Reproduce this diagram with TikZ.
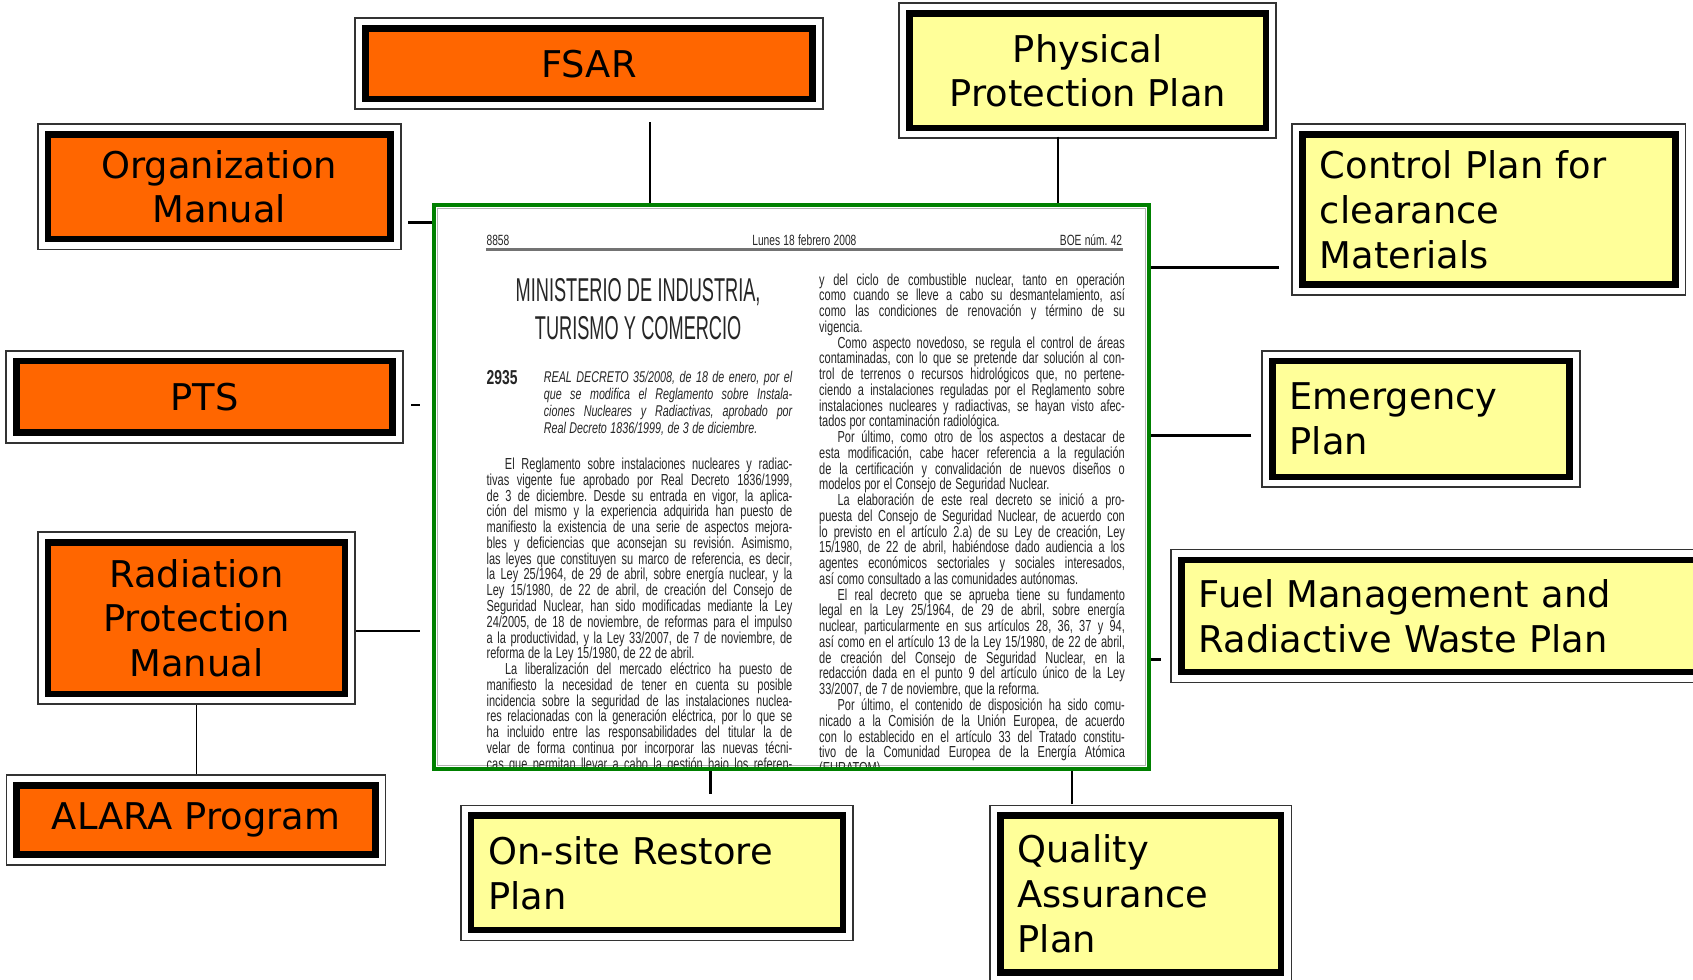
\documentclass[tikz,border=0pt]{standalone}
\usepackage{fontspec}
\usepackage{tikz}
\usetikzlibrary{calc}

\newfontfamily\planfont{DejaVu Sans}
\newfontfamily\boefont[FakeStretch=0.69]{Liberation Sans}
\newfontfamily\boetitlefont[FakeStretch=0.55]{Liberation Sans}

\definecolor{planorange}{RGB}{255,102,0}
\definecolor{planyellow}{RGB}{255,255,153}
\definecolor{boegreen}{RGB}{0,128,0}

\newlength{\boecol}\setlength{\boecol}{2.83cm}
\newlength{\boedec}\setlength{\boedec}{2.30cm}
\newcommand{\boespace}{\frenchspacing\spaceskip=0.22em plus 3em minus 0.1em\relax}
\newcommand{\titlespace}{\frenchspacing\spaceskip=0.16em\relax}
\newcommand{\jl}[2][\boecol]{\makebox[#1][s]{\boespace #2}}
\newcommand{\ind}{\hspace*{0.17cm}}

\begin{document}
\begin{tikzpicture}[x=0.01cm,y=-0.01cm,
    plan/.style={draw=black, line width=0.06cm, inner xsep=0.16cm, inner ysep=0.1cm,
                 font=\planfont\fontsize{9.7}{11.8}\selectfont},
    orange plan/.style={plan, fill=planorange, align=center},
    yellow plan/.style={plan, fill=planyellow, align=left},
    planframe/.style={draw=black!80, line width=0.016cm},
    link/.style={line width=0.025cm},
    boetext/.style={inner sep=0pt, align=left, text width=\boecol, text=black!85,
                    font=\boefont\fontsize{4.2}{4.15}\selectfont}]

  \useasboundingbox (0,0) rectangle (1568,907.5);

  % the BOE page
  \node[draw=boegreen, line width=0.037cm, fill=white, inner sep=0pt,
        minimum width=6.62cm, minimum height=5.22cm] (boe) at (733,451) {};
  \draw[black!30, line width=0.01cm] (405,193) rectangle (1061,709);

  \begin{scope}
    \clip (404,192) rectangle (1062,710);
    \node[boetext, text width=, anchor=base west, font=\boefont\fontsize{3.9}{4}\selectfont] (page) at (450,227) {8858};
    \node[boetext, text width=, anchor=base, font=\boefont\fontsize{3.9}{4}\selectfont] (date) at (745,227) {\boespace Lunes 18 febrero 2008};
    \node[boetext, text width=, anchor=base east, font=\boefont\fontsize{3.9}{4}\selectfont] (issue) at (1040,227) {\boespace BOE núm. 42};
    \draw[black!55, line width=0.022cm] (450,231) -- (1040,231);

    \node[inner sep=0pt, text width=2.6cm, align=center, anchor=base, text=black!85,
          font=\boetitlefont\fontsize{8.7}{9.96}\selectfont] (ministry) at (591,279)
      {\titlespace MINISTERIO DE INDUSTRIA,\\TURISMO Y COMERCIO};

    \node[boetext, text width=, anchor=base west, font=\boefont\bfseries\fontsize{5.3}{5.5}\selectfont] (number) at (450,356) {2935};
    \node[boetext, text width=\boedec, anchor=base west, font=\boefont\itshape\fontsize{4.1}{4.47}\selectfont] (decree) at (503,354)
      {\boespace
       \jl[\boedec]{REAL DECRETO 35/2008, de 18 de enero, por el}\\
       \jl[\boedec]{que se modifica el Reglamento sobre Instala-}\\
       \jl[\boedec]{ciones Nucleares y Radiactivas, aprobado por}\\
       Real Decreto 1836/1999, de 3 de diciembre.};

    \node[boetext, anchor=base west] (leftcol) at (450,435)
      {\boespace
       \jl{\ind El Reglamento sobre instalaciones nucleares y radiac-}\\
       \jl{tivas vigente fue aprobado por Real Decreto 1836/1999,}\\
       \jl{de 3 de diciembre. Desde su entrada en vigor, la aplica-}\\
       \jl{ción del mismo y la experiencia adquirida han puesto de}\\
       \jl{manifiesto la existencia de una serie de aspectos mejora-}\\
       \jl{bles y deficiencias que aconsejan su revisión. Asimismo,}\\
       \jl{las leyes que constituyen su marco de referencia, es decir,}\\
       \jl{la Ley 25/1964, de 29 de abril, sobre energía nuclear, y la}\\
       \jl{Ley 15/1980, de 22 de abril, de creación del Consejo de}\\
       \jl{Seguridad Nuclear, han sido modificadas mediante la Ley}\\
       \jl{24/2005, de 18 de noviembre, de reformas para el impulso}\\
       \jl{a la productividad, y la Ley 33/2007, de 7 de noviembre, de}\\
       reforma de la Ley 15/1980, de 22 de abril.\\
       \jl{\ind La liberalización del mercado eléctrico ha puesto de}\\
       \jl{manifiesto la necesidad de tener en cuenta su posible}\\
       \jl{incidencia sobre la seguridad de las instalaciones nuclea-}\\
       \jl{res relacionadas con la generación eléctrica, por lo que se}\\
       \jl{ha incluido entre las responsabilidades del titular la de}\\
       \jl{velar de forma continua por incorporar las nuevas técni-}\\
       \jl{cas que permitan llevar a cabo la gestión bajo los referen-}};

    \node[boetext, anchor=base west] (rightcol) at (758,264)
      {\boespace
       \jl{y del ciclo de combustible nuclear, tanto en operación}\\
       \jl{como cuando se lleve a cabo su desmantelamiento, así}\\
       \jl{como las condiciones de renovación y término de su}\\
       vigencia.\\
       \jl{\ind Como aspecto novedoso, se regula el control de áreas}\\
       \jl{contaminadas, con lo que se pretende dar solución al con-}\\
       \jl{trol de terrenos o recursos hidrológicos que, no pertene-}\\
       \jl{ciendo a instalaciones reguladas por el Reglamento sobre}\\
       \jl{instalaciones nucleares y radiactivas, se hayan visto afec-}\\
       tados por contaminación radiológica.\\
       \jl{\ind Por último, como otro de los aspectos a destacar de}\\
       \jl{esta modificación, cabe hacer referencia a la regulación}\\
       \jl{de la certificación y convalidación de nuevos diseños o}\\
       modelos por el Consejo de Seguridad Nuclear.\\
       \jl{\ind La elaboración de este real decreto se inició a pro-}\\
       \jl{puesta del Consejo de Seguridad Nuclear, de acuerdo con}\\
       \jl{lo previsto en el artículo 2.a) de su Ley de creación, Ley}\\
       \jl{15/1980, de 22 de abril, habiéndose dado audiencia a los}\\
       \jl{agentes económicos sectoriales y sociales interesados,}\\
       así como consultado a las comunidades autónomas.\\
       \jl{\ind El real decreto que se aprueba tiene su fundamento}\\
       \jl{legal en la Ley 25/1964, de 29 de abril, sobre energía}\\
       \jl{nuclear, particularmente en sus artículos 28, 36, 37 y 94,}\\
       \jl{así como en el artículo 13 de la Ley 15/1980, de 22 de abril,}\\
       \jl{de creación del Consejo de Seguridad Nuclear, en la}\\
       \jl{redacción dada en el punto 9 del artículo único de la Ley}\\
       33/2007, de 7 de noviembre, que la reforma.\\
       \jl{\ind Por último, el contenido de disposición ha sido comu-}\\
       \jl{nicado a la Comisión de la Unión Europea, de acuerdo}\\
       \jl{con lo establecido en el artículo 33 del Tratado constitu-}\\
       \jl{tivo de la Comunidad Europea de la Energía Atómica}\\
       (EURATOM).};
  \end{scope}

  % plans and manuals
  \node[orange plan, minimum width=4.14cm, minimum height=0.65cm] (fsar) at (545.5,59) {FSAR};
  \node[yellow plan, align=center, minimum width=3.30cm, minimum height=1.06cm] (physical) at (1007.5,65.5) {Physical\\Protection Plan};
  \node[orange plan, minimum width=3.17cm, minimum height=0.97cm] (organization) at (203,173) {Organization\\Manual};
  \node[yellow plan, text width=3.13cm, minimum height=1.39cm] (clearance) at (1379,194) {Control Plan for\\clearance\\Materials};
  \node[orange plan, minimum width=3.48cm, minimum height=0.66cm] (pts) at (189.5,367.5) {PTS};
  \node[yellow plan, text width=2.43cm, minimum height=1.07cm] (emergency) at (1316,388) {Emergency\\Plan};
  \node[orange plan, minimum width=2.75cm, minimum height=1.40cm] (radiation) at (182,572.5) {Radiation\\Protection\\Manual};
  \node[orange plan, minimum width=3.32cm, minimum height=0.64cm] (alara) at (181.5,759.5) {ALARA Program};
  \node[yellow plan, text width=4.66cm, minimum height=1.04cm] (fuel) at (1343.5,570.5) {Fuel Management and\\Radiactive Waste Plan};
  \node[yellow plan, text width=3.12cm, minimum height=1.06cm] (restore) at (608.5,808.5) {On-site Restore\\Plan};
  \node[yellow plan, text width=2.28cm, minimum height=1.45cm] (quality) at (1056.5,828) {Quality\\Assurance\\Plan};

  \foreach \n in {fsar,physical,organization,clearance,pts,emergency,radiation,alara,fuel,restore,quality}
    \draw[planframe] ([shift={(-0.065cm,0.065cm)}]\n.north west) rectangle ([shift={(0.065cm,-0.065cm)}]\n.south east);

  % links to the BOE page
  \draw[link, shorten <=0.185cm] ([xshift=0.565cm]fsar.south) -- ([xshift=0.565cm]fsar.south |- boe.north);
  \draw[link, shorten <=0.05cm] ([xshift=-0.275cm]physical.south) -- ([xshift=-0.275cm]physical.south |- boe.north);
  \draw[link, shorten <=0.135cm] ([yshift=-0.33cm]organization.east) -- ([yshift=-0.33cm]organization.east -| boe.west);
  \draw[link, shorten <=0.19cm] ([yshift=-0.54cm]clearance.west) -- ([yshift=-0.54cm]clearance.west -| boe.east);
  \draw[link, shorten <=0.145cm, shorten >=0.11cm] ([yshift=-0.075cm]pts.east) -- ([yshift=-0.075cm]pts.east -| boe.west);
  \draw[link, shorten <=0.165cm] ([yshift=-0.15cm]emergency.west) -- ([yshift=-0.15cm]emergency.west -| boe.east);
  \draw[link, line width=0.018cm, shorten <=0.075cm, shorten >=0.11cm] ([yshift=-0.115cm]radiation.east) -- ([yshift=-0.115cm]radiation.east -| boe.west);
  \draw[link, line width=0.016cm, shorten <=0.075cm, shorten >=0.075cm] (radiation.south) -- (radiation.south |- alara.north);
  \draw[link, shorten <=0.165cm] ([yshift=-0.405cm]fuel.west) -- ([yshift=-0.405cm]fuel.west -| boe.east);
  \draw[link, shorten <=0.175cm] ([xshift=0.495cm]restore.north) -- ([xshift=0.495cm]restore.north |- boe.south);
  \draw[link, shorten <=0.075cm] ([xshift=-0.635cm]quality.north) -- ([xshift=-0.635cm]quality.north |- boe.south);
\end{tikzpicture}
\end{document}
